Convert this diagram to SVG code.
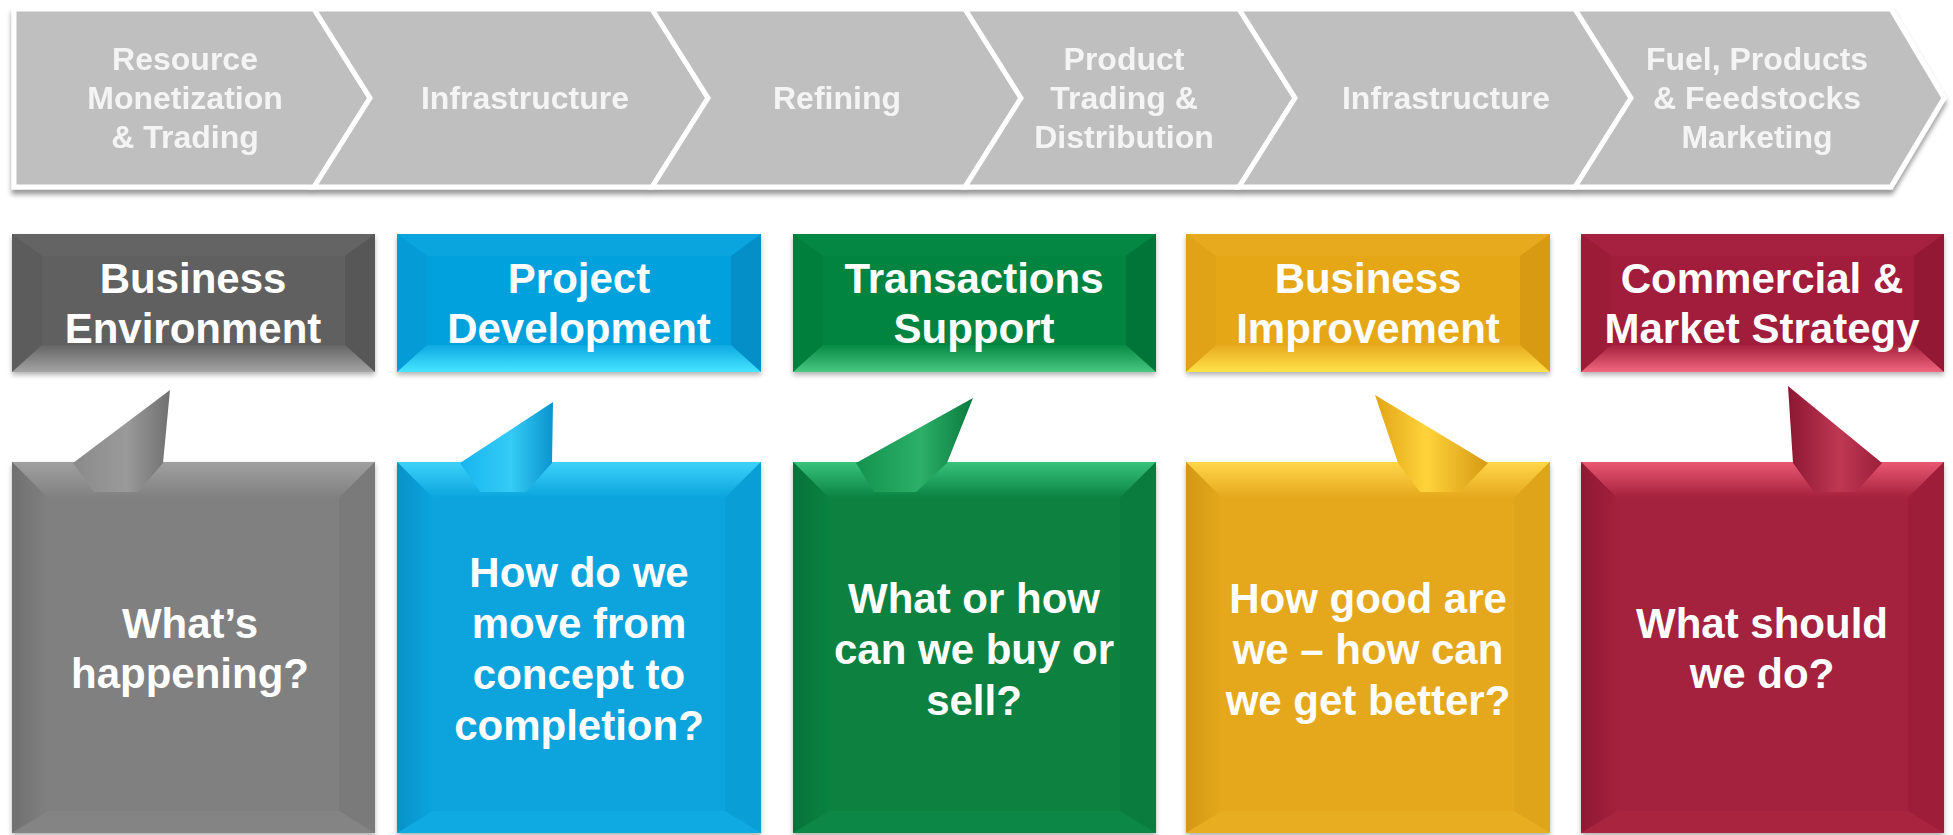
<svg xmlns="http://www.w3.org/2000/svg" width="1953" height="835" viewBox="0 0 1953 835">
  <style>
    .chev { fill: #bfbfbf; stroke: #ffffff; stroke-width: 5; stroke-linejoin: miter; }
    .ct { font-family: "Liberation Sans", Arial, sans-serif; font-weight: bold; font-size: 32px; fill: #f4f4f4; text-anchor: middle; }
    .ht { font-family: "Liberation Sans", Arial, sans-serif; font-weight: bold; font-size: 42px; fill: #ffffff; text-anchor: middle; }
    .bt { font-family: "Liberation Sans", Arial, sans-serif; font-weight: bold; font-size: 42px; fill: #ffffff; text-anchor: middle; }
  </style>
  <defs>
    <filter id="shadow" x="-5%" y="-5%" width="110%" height="115%">
      <feGaussianBlur in="SourceAlpha" stdDeviation="2.5"/>
      <feOffset dx="0" dy="3" result="b"/>
      <feComponentTransfer><feFuncA type="linear" slope="0.3"/></feComponentTransfer>
      <feMerge><feMergeNode/><feMergeNode in="SourceGraphic"/></feMerge>
    </filter>
    <filter id="barShadow" x="-2%" y="-5%" width="104%" height="120%">
      <feGaussianBlur in="SourceAlpha" stdDeviation="2.5"/>
      <feOffset dx="0" dy="5"/>
      <feComponentTransfer><feFuncA type="linear" slope="0.4"/></feComponentTransfer>
      <feMerge><feMergeNode/><feMergeNode in="SourceGraphic"/></feMerge>
    </filter>

    <!-- header bottom bevel: face to bright edge -->
    <linearGradient id="gray-hb" x1="0" y1="0" x2="0" y2="1"><stop offset="0" stop-color="#656565"/><stop offset="1" stop-color="#a4a4a4"/></linearGradient>
    <linearGradient id="blue-hb" x1="0" y1="0" x2="0" y2="1"><stop offset="0" stop-color="#0ea8e2"/><stop offset="1" stop-color="#46e6ff"/></linearGradient>
    <linearGradient id="green-hb" x1="0" y1="0" x2="0" y2="1"><stop offset="0" stop-color="#078a44"/><stop offset="1" stop-color="#48c882"/></linearGradient>
    <linearGradient id="yellow-hb" x1="0" y1="0" x2="0" y2="1"><stop offset="0" stop-color="#e7aa1e"/><stop offset="1" stop-color="#ffe24a"/></linearGradient>
    <linearGradient id="red-hb" x1="0" y1="0" x2="0" y2="1"><stop offset="0" stop-color="#a6223e"/><stop offset="1" stop-color="#f0667e"/></linearGradient>

    <!-- question box top bevel: bright edge to face -->
    <linearGradient id="gray-bt" x1="0" y1="0" x2="0" y2="1"><stop offset="0" stop-color="#a0a0a0"/><stop offset="1" stop-color="#808080"/></linearGradient>
    <linearGradient id="blue-bt" x1="0" y1="0" x2="0" y2="1"><stop offset="0" stop-color="#3ed2fa"/><stop offset="1" stop-color="#0aa4dd"/></linearGradient>
    <linearGradient id="green-bt" x1="0" y1="0" x2="0" y2="1"><stop offset="0" stop-color="#38c27c"/><stop offset="1" stop-color="#0a8241"/></linearGradient>
    <linearGradient id="yellow-bt" x1="0" y1="0" x2="0" y2="1"><stop offset="0" stop-color="#ffd64a"/><stop offset="1" stop-color="#e5a81c"/></linearGradient>
    <linearGradient id="red-bt" x1="0" y1="0" x2="0" y2="1"><stop offset="0" stop-color="#ea5872"/><stop offset="1" stop-color="#a4203c"/></linearGradient>

    <!-- question box left bevel: dark edge to face -->
    <linearGradient id="gray-bl" x1="0" y1="0" x2="1" y2="0"><stop offset="0" stop-color="#707070"/><stop offset="1" stop-color="#808080"/></linearGradient>
    <linearGradient id="blue-bl" x1="0" y1="0" x2="1" y2="0"><stop offset="0" stop-color="#0892c8"/><stop offset="1" stop-color="#0aa4dd"/></linearGradient>
    <linearGradient id="green-bl" x1="0" y1="0" x2="1" y2="0"><stop offset="0" stop-color="#077238"/><stop offset="1" stop-color="#0a8241"/></linearGradient>
    <linearGradient id="yellow-bl" x1="0" y1="0" x2="1" y2="0"><stop offset="0" stop-color="#d39814"/><stop offset="1" stop-color="#e5a81c"/></linearGradient>
    <linearGradient id="red-bl" x1="0" y1="0" x2="1" y2="0"><stop offset="0" stop-color="#8e1933"/><stop offset="1" stop-color="#a4203c"/></linearGradient>

    <!-- callout tails -->
    <linearGradient id="gray-tl" x1="0" y1="0" x2="1" y2="0"><stop offset="0" stop-color="#8a8a8a"/><stop offset="0.55" stop-color="#9a9a9a"/><stop offset="1" stop-color="#707070"/></linearGradient>
    <linearGradient id="blue-tl" x1="0" y1="0" x2="1" y2="0"><stop offset="0" stop-color="#18b6ee"/><stop offset="0.55" stop-color="#34cbf6"/><stop offset="1" stop-color="#0a94cc"/></linearGradient>
    <linearGradient id="green-tl" x1="0" y1="0" x2="1" y2="0"><stop offset="0" stop-color="#12924e"/><stop offset="0.55" stop-color="#2cb068"/><stop offset="1" stop-color="#0a7a3e"/></linearGradient>
    <linearGradient id="yellow-tl" x1="0" y1="0" x2="1" y2="0"><stop offset="0" stop-color="#e0a416"/><stop offset="0.45" stop-color="#ffd33a"/><stop offset="1" stop-color="#d69a14"/></linearGradient>
    <linearGradient id="red-tl" x1="0" y1="0" x2="1" y2="0"><stop offset="0" stop-color="#8c1732"/><stop offset="0.55" stop-color="#bf3853"/><stop offset="1" stop-color="#9c1e3a"/></linearGradient>
  </defs>

  <rect width="1953" height="835" fill="#ffffff"/>

  <!-- value chain chevrons -->
  <g id="value-chain" filter="url(#barShadow)">
    <g id="chev-1">
      <polygon class="chev" points="14,9 314,9 370,98 314,187 14,187"/>
      <text class="ct" x="185" y="70">Resource</text>
      <text class="ct" x="185" y="109">Monetization</text>
      <text class="ct" x="185" y="148">&amp; Trading</text>
    </g>
    <g id="chev-2">
      <polygon class="chev" points="314,9 652,9 708,98 652,187 314,187 370,98"/>
      <text class="ct" x="525" y="109">Infrastructure</text>
    </g>
    <g id="chev-3">
      <polygon class="chev" points="652,9 965,9 1021,98 965,187 652,187 708,98"/>
      <text class="ct" x="837" y="109">Refining</text>
    </g>
    <g id="chev-4">
      <polygon class="chev" points="965,9 1239,9 1295,98 1239,187 965,187 1021,98"/>
      <text class="ct" x="1124" y="70">Product</text>
      <text class="ct" x="1124" y="109">Trading &amp;</text>
      <text class="ct" x="1124" y="148">Distribution</text>
    </g>
    <g id="chev-5">
      <polygon class="chev" points="1239,9 1575,9 1631,98 1575,187 1239,187 1295,98"/>
      <text class="ct" x="1446" y="109">Infrastructure</text>
    </g>
    <g id="chev-6">
      <polygon class="chev" points="1575,9 1891,9 1944,98 1891,187 1575,187 1631,98"/>
      <text class="ct" x="1757" y="70">Fuel, Products</text>
      <text class="ct" x="1757" y="109">&amp; Feedstocks</text>
      <text class="ct" x="1757" y="148">Marketing</text>
    </g>
  </g>

  <!-- service headers (bevelled boxes, 363 x 138) -->
  <g id="hdr-business-environment">
    <rect x="12" y="234" width="363" height="138" fill="#606060" filter="url(#shadow)"/>
    <polygon points="12,234 375,234 345,256 42,256" fill="#646464"/>
    <polygon points="12,234 42,256 42,345 12,372" fill="#5c5c5c"/>
    <polygon points="375,234 345,256 345,345 375,372" fill="#575757"/>
    <polygon points="12,372 42,345 345,345 375,372" fill="url(#gray-hb)"/>
    <text class="ht" x="193" y="293">Business</text>
    <text class="ht" x="193" y="343">Environment</text>
  </g>
  <g id="hdr-project-development">
    <rect x="397" y="234" width="364" height="138" fill="#06a1dd" filter="url(#shadow)"/>
    <polygon points="397,234 761,234 731,256 427,256" fill="#0aa4df"/>
    <polygon points="397,234 427,256 427,345 397,372" fill="#059bd6"/>
    <polygon points="761,234 731,256 731,345 761,372" fill="#058fc8"/>
    <polygon points="397,372 427,345 731,345 761,372" fill="url(#blue-hb)"/>
    <text class="ht" x="579" y="293">Project</text>
    <text class="ht" x="579" y="343">Development</text>
  </g>
  <g id="hdr-transactions-support">
    <rect x="793" y="234" width="363" height="138" fill="#00843f" filter="url(#shadow)"/>
    <polygon points="793,234 1156,234 1126,256 823,256" fill="#048742"/>
    <polygon points="793,234 823,256 823,345 793,372" fill="#007e3c"/>
    <polygon points="1156,234 1126,256 1126,345 1156,372" fill="#007537"/>
    <polygon points="793,372 823,345 1126,345 1156,372" fill="url(#green-hb)"/>
    <text class="ht" x="974" y="293">Transactions</text>
    <text class="ht" x="974" y="343">Support</text>
  </g>
  <g id="hdr-business-improvement">
    <rect x="1186" y="234" width="364" height="138" fill="#e5a718" filter="url(#shadow)"/>
    <polygon points="1186,234 1550,234 1520,256 1216,256" fill="#e7aa1e"/>
    <polygon points="1186,234 1216,256 1216,345 1186,372" fill="#e0a216"/>
    <polygon points="1550,234 1520,256 1520,345 1550,372" fill="#d89a12"/>
    <polygon points="1186,372 1216,345 1520,345 1550,372" fill="url(#yellow-hb)"/>
    <text class="ht" x="1368" y="293">Business</text>
    <text class="ht" x="1368" y="343">Improvement</text>
  </g>
  <g id="hdr-commercial-market-strategy">
    <rect x="1581" y="234" width="363" height="138" fill="#a21d3a" filter="url(#shadow)"/>
    <polygon points="1581,234 1944,234 1914,256 1611,256" fill="#a6213f"/>
    <polygon points="1581,234 1611,256 1611,345 1581,372" fill="#9c1b37"/>
    <polygon points="1944,234 1914,256 1914,345 1944,372" fill="#921833"/>
    <polygon points="1581,372 1611,345 1914,345 1944,372" fill="url(#red-hb)"/>
    <text class="ht" x="1762" y="293">Commercial &amp;</text>
    <text class="ht" x="1762" y="343">Market Strategy</text>
  </g>

  <!-- question callouts (bevelled boxes, 363 x 371, with tails) -->
  <g id="q-whats-happening">
    <rect x="12" y="462" width="363" height="371" fill="#808080" filter="url(#shadow)"/>
    <polygon points="12,462 375,462 339,498 48,498" fill="url(#gray-bt)"/>
    <polygon points="12,462 48,498 48,811 12,833" fill="url(#gray-bl)"/>
    <polygon points="375,462 339,498 339,811 375,833" fill="#7a7a7a"/>
    <polygon points="12,833 48,811 339,811 375,833" fill="#848484"/>
    <polygon points="73,463 170,390 163,463 138,492 94,492" fill="url(#gray-tl)"/>
    <text class="bt" x="190" y="638">What’s</text>
    <text class="bt" x="190" y="688">happening?</text>
  </g>
  <g id="q-concept-to-completion">
    <rect x="397" y="462" width="364" height="371" fill="#0aa4dd" filter="url(#shadow)"/>
    <polygon points="397,462 761,462 725,498 433,498" fill="url(#blue-bt)"/>
    <polygon points="397,462 433,498 433,811 397,833" fill="url(#blue-bl)"/>
    <polygon points="761,462 725,498 725,811 761,833" fill="#099ed6"/>
    <polygon points="397,833 433,811 725,811 761,833" fill="#10aae3"/>
    <polygon points="460,463 553,402 552,463 526,492 480,492" fill="url(#blue-tl)"/>
    <text class="bt" x="579" y="587">How do we</text>
    <text class="bt" x="579" y="638">move from</text>
    <text class="bt" x="579" y="689">concept to</text>
    <text class="bt" x="579" y="740">completion?</text>
  </g>
  <g id="q-buy-or-sell">
    <rect x="793" y="462" width="363" height="371" fill="#0a8241" filter="url(#shadow)"/>
    <polygon points="793,462 1156,462 1120,498 829,498" fill="url(#green-bt)"/>
    <polygon points="793,462 829,498 829,811 793,833" fill="url(#green-bl)"/>
    <polygon points="1156,462 1120,498 1120,811 1156,833" fill="#097c3e"/>
    <polygon points="793,833 829,811 1120,811 1156,833" fill="#0d8746"/>
    <polygon points="856,463 973,398 947,463 916,492 874,492" fill="url(#green-tl)"/>
    <text class="bt" x="974" y="613">What or how</text>
    <text class="bt" x="974" y="664">can we buy or</text>
    <text class="bt" x="974" y="715">sell?</text>
  </g>
  <g id="q-how-good">
    <rect x="1186" y="462" width="364" height="371" fill="#e5a81c" filter="url(#shadow)"/>
    <polygon points="1186,462 1550,462 1514,498 1222,498" fill="url(#yellow-bt)"/>
    <polygon points="1186,462 1222,498 1222,811 1186,833" fill="url(#yellow-bl)"/>
    <polygon points="1550,462 1514,498 1514,811 1550,833" fill="#dfa41a"/>
    <polygon points="1186,833 1222,811 1514,811 1550,833" fill="#e9ad22"/>
    <polygon points="1398,463 1375,395 1488,463 1460,492 1420,492" fill="url(#yellow-tl)"/>
    <text class="bt" x="1368" y="613">How good are</text>
    <text class="bt" x="1368" y="664">we – how can</text>
    <text class="bt" x="1368" y="715">we get better?</text>
  </g>
  <g id="q-what-should-we-do">
    <rect x="1581" y="462" width="363" height="371" fill="#a4203c" filter="url(#shadow)"/>
    <polygon points="1581,462 1944,462 1908,498 1617,498" fill="url(#red-bt)"/>
    <polygon points="1581,462 1617,498 1617,811 1581,833" fill="url(#red-bl)"/>
    <polygon points="1944,462 1908,498 1908,811 1944,833" fill="#9e1e3a"/>
    <polygon points="1581,833 1617,811 1908,811 1944,833" fill="#a8243f"/>
    <polygon points="1793,463 1788,386 1882,463 1856,492 1814,492" fill="url(#red-tl)"/>
    <text class="bt" x="1762" y="638">What should</text>
    <text class="bt" x="1762" y="688">we do?</text>
  </g>
</svg>
